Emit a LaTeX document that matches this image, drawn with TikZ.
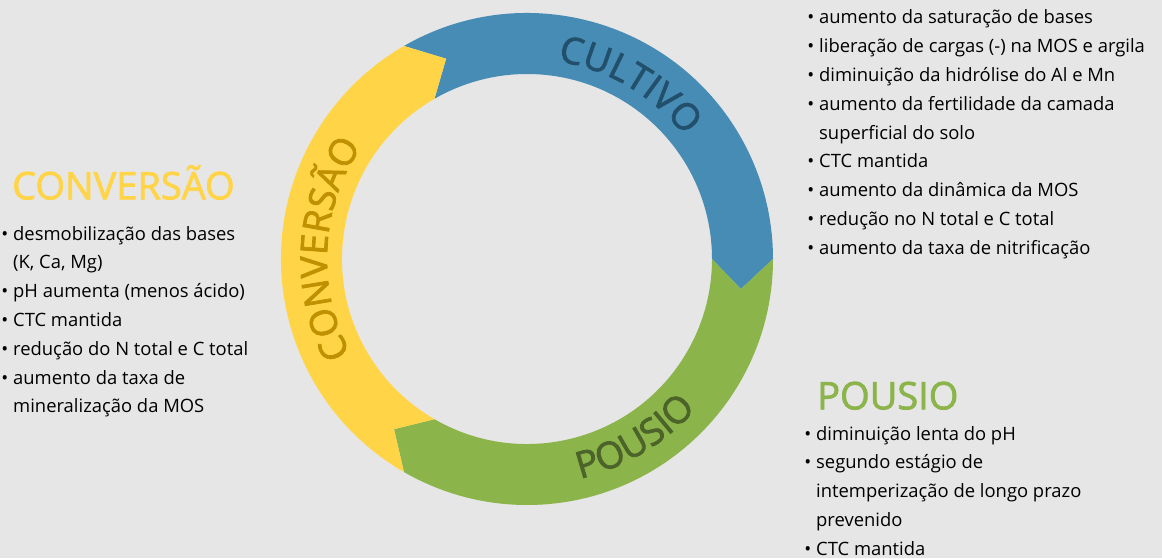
\documentclass[tikz,border=0pt]{standalone}
\usepackage{fontspec}
\setmainfont{Open Sans}
\newfontface\semi{Open Sans}[FakeBold=2]
\usetikzlibrary{decorations.text}

\definecolor{bggray}{HTML}{E7E6E6}
\definecolor{cultblue}{HTML}{478CB4}
\definecolor{cultdark}{HTML}{22506C}
\definecolor{convyellow}{HTML}{FFD447}
\definecolor{convdark}{HTML}{BF9000}
\definecolor{pousgreen}{HTML}{8BB44A}
\definecolor{pousdark}{HTML}{4C6329}

\newcommand\bul{\llap{\textbullet\hspace{5pt}}}
\newcommand\ringfont{\semi\fontsize{37}{37}\selectfont}

\begin{document}
\begin{tikzpicture}[x=1pt,y=1pt,
  item/.style={anchor=base west,inner sep=0pt,font=\fontsize{18.4}{22}\selectfont},
  head/.style={anchor=base west,inner sep=0pt,font=\semi\fontsize{38}{38}\selectfont},
  ringtext/.style={decorate,decoration={text along path,text align=center,text color=#1}}]

\fill[bggray] (0,0) rectangle (1162,558);
\useasboundingbox (0,0) rectangle (1162,558);

\begin{scope}[shift={(527,299)}]
\fill[cultblue] (120:246) arc[start angle=120,end angle=0,radius=246] -- (-8:216) -- (0:185)
  arc[start angle=0,end angle=120,radius=185] -- (112:216) -- cycle;
\fill[pousgreen] (0:246) arc[start angle=0,end angle=-120,radius=246] -- (-128:216) -- (-120:185)
  arc[start angle=-120,end angle=0,radius=185] -- (-8:216) -- cycle;
\fill[convyellow] (240:246) arc[start angle=240,end angle=120,radius=246] -- (112:216) -- (120:185)
  arc[start angle=120,end angle=240,radius=185] -- (232:216) -- cycle;

\path[ringtext=cultdark,decoration={text={|\ringfont|CULTIVO}}]
  (100:200) arc[start angle=100,end angle=19,radius=200];
\path[ringtext=convdark,decoration={text={|\ringfont|CONVERSÃO}}]
  (222:200) arc[start angle=222,end angle=132,radius=200];
\path[ringtext=pousdark,decoration={text={|\ringfont|POUSIO}}]
  (-89:226) arc[start angle=-89,end angle=-29,radius=226];
\end{scope}

\foreach \t [count=\i from 0] in {{\bul aumento da saturação de bases},
  {\bul liberação de cargas (-) na MOS e argila},
  {\bul diminuição da hidrólise do Al e Mn},
  {\bul aumento da fertilidade da camada},
  {superficial do solo},
  {\bul CTC mantida},
  {\bul aumento da dinâmica da MOS},
  {\bul redução no N total e C total},
  {\bul aumento da taxa de nitrificação}}
  \node[item] (cult\i) at (819,534-28.8*\i) {\t};

\node[head,text=convyellow] (hconv) at (12,358.7) {CONVERSÃO};
\foreach \t [count=\i from 0] in {{\bul desmobilização das bases},
  {(K, Ca, Mg)},
  {\bul pH aumenta (menos ácido)},
  {\bul CTC mantida},
  {\bul redução do N total e C total},
  {\bul aumento da taxa de},
  {mineralização da MOS}}
  \node[item] (conv\i) at (13,318-28.8*\i) {\t};

\node[head,text=pousgreen] (hpous) at (817,148.7) {POUSIO};
\foreach \t [count=\i from 0] in {{\bul diminuição lenta do pH},
  {\bul segundo estágio de},
  {intemperização de longo prazo},
  {prevenido},
  {\bul CTC mantida}}
  \node[item] (pous\i) at (816,118-28.8*\i) {\t};

\end{tikzpicture}
\end{document}
